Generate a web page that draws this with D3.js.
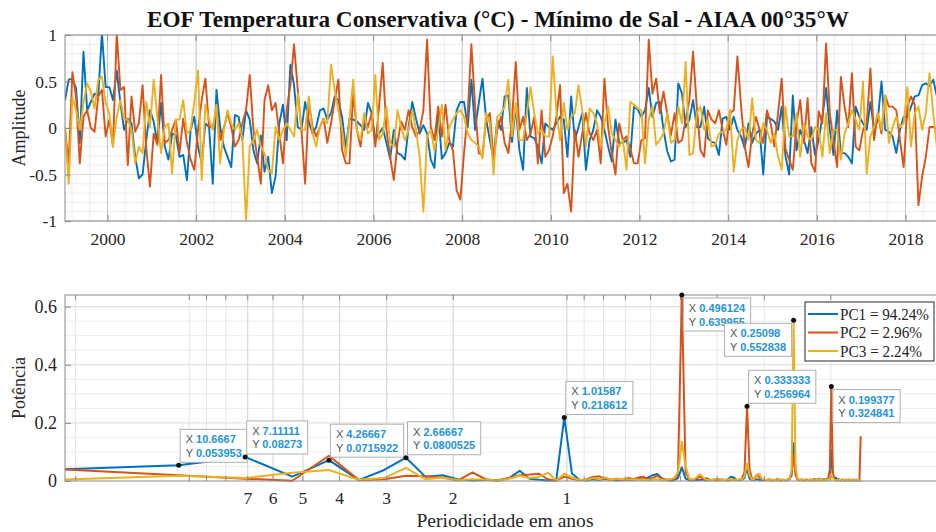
<!DOCTYPE html>
<html><head><meta charset="utf-8">
<script src="https://cdn.jsdelivr.net/npm/d3@7"></script>
<style>body{margin:0;background:#fff}svg{display:block}</style>
</head><body><svg id="c" width="936" height="532"></svg>
<script>
// ---------------- DATA ----------------
const startYear = 1999;            // monthly series, first month Jan 1999
const yearTicks = [2000,2002,2004,2006,2008,2010,2012,2014,2016,2018];
const ampTicks = [-1,-0.5,0,0.5,1];
const pc1 = [
0.30,0.52,0.53,0.43,-0.16,0.82,0.19,0.28,0.37,0.35,
1.02,0.44,0.44,0.30,0.62,0.27,-0.02,0.10,0.05,-0.31,
-0.54,-0.50,-0.13,0.19,0.07,-0.16,0.27,-0.20,-0.34,-0.06,
-0.08,-0.31,-0.29,-0.56,-0.02,0.12,-0.20,-0.38,0.05,0.01,
-0.60,0.41,0.01,-0.20,-0.31,-0.42,0.14,0.12,-0.13,0.19,
0.09,-0.24,-0.38,-0.08,-0.47,-0.31,-0.70,-0.52,0.05,0.25,
-0.13,0.68,0.46,0.01,-0.02,0.28,0.07,-0.06,0.01,0.19,
0.21,0.09,0.16,0.34,0.30,0.12,-0.22,0.10,0.09,0.07,
0.03,-0.02,0.27,0.16,-0.13,-0.06,0.00,-0.16,-0.33,-0.02,
-0.27,-0.29,-0.34,0.01,0.28,0.10,-0.06,0.03,-0.06,-0.34,
-0.43,0.19,-0.33,-0.27,-0.16,-0.20,0.19,0.28,0.28,0.01,
0.52,-0.02,0.27,0.53,0.09,-0.13,-0.34,0.09,-0.02,0.34,
0.35,-0.15,0.23,-0.24,-0.45,0.43,-0.09,-0.11,-0.20,-0.38,
0.05,0.01,-0.02,0.05,0.12,0.09,-0.31,0.34,-0.13,0.01,
0.16,-0.45,-0.13,-0.02,0.19,0.12,-0.02,-0.20,-0.36,0.09,
-0.16,-0.16,-0.13,-0.31,0.23,0.20,0.12,0.19,0.43,0.12,
0.27,0.28,-0.02,-0.25,-0.36,-0.34,0.48,0.37,0.01,0.09,
0.30,0.01,0.01,0.23,-0.11,-0.15,-0.16,-0.29,0.10,0.12,
-0.02,0.12,-0.02,-0.09,-0.22,0.05,-0.16,-0.06,-0.02,-0.50,
0.12,0.10,0.07,-0.02,0.23,-0.30,-0.50,0.35,-0.24,-0.02,
-0.13,-0.27,0.01,-0.29,-0.13,0.12,0.43,-0.02,-0.29,0.19,
-0.27,-0.27,-0.31,-0.38,0.23,0.12,0.05,-0.02,0.28,-0.02,
0.09,0.50,-0.02,-0.04,-0.09,-0.27,-0.02,0.12,0.12,0.23,
0.34,0.35,0.46,0.48,0.45,0.52,0.34,0.30,0.40,0.25];
const pc2 = [
0.00,-0.38,0.60,0.33,-0.38,0.12,0.19,0.00,-0.04,0.34,
0.41,-0.09,0.09,-0.20,1.02,0.41,0.44,-0.40,0.34,-0.04,
0.05,0.46,-0.22,-0.63,-0.06,-0.18,0.57,-0.16,-0.13,-0.02,
0.09,-0.27,0.10,-0.15,-0.34,-0.45,-0.02,0.30,0.53,0.01,
0.01,0.19,-0.13,0.00,0.16,0.01,-0.20,-0.13,0.05,0.19,
0.57,-0.02,-0.31,-0.60,0.30,0.46,0.19,0.27,-0.06,-0.38,
0.19,0.46,0.90,0.41,-0.02,-0.60,0.28,0.01,-0.09,0.01,
0.10,-0.16,0.05,0.30,0.52,-0.24,-0.38,-0.38,0.37,-0.02,
-0.20,0.12,0.01,0.16,-0.20,0.23,0.70,-0.02,-0.31,-0.56,
-0.16,0.07,-0.02,0.19,0.01,-0.09,-0.02,0.19,0.95,0.01,
-0.13,0.23,-0.09,0.25,-0.13,-0.24,-0.67,-0.77,-0.27,0.16,
0.90,0.23,-0.27,-0.29,0.09,0.16,-0.34,-0.02,0.12,-0.16,
-0.27,0.09,0.71,-0.02,0.12,-0.13,-0.06,0.12,-0.38,0.19,
-0.31,-0.24,-0.09,0.12,0.46,-0.70,-0.60,-0.90,-0.02,-0.31,
-0.06,0.16,-0.06,-0.13,-0.02,-0.38,0.53,0.01,-0.27,-0.50,
0.05,-0.13,-0.09,-0.22,-0.38,-0.38,-0.13,-0.11,0.95,0.37,
0.53,0.16,0.39,0.16,-0.08,0.16,-0.16,-0.13,0.09,0.30,
0.82,0.23,-0.24,-0.31,0.19,0.09,0.05,0.19,-0.02,-0.18,
0.16,0.19,0.77,0.23,-0.20,-0.42,-0.06,0.12,-0.02,-0.16,
0.19,0.05,-0.20,0.16,0.53,-0.22,-0.34,-0.45,0.05,0.30,
-0.16,0.32,-0.38,-0.47,0.18,0.05,0.91,0.16,-0.13,-0.42,
0.55,0.23,0.01,0.59,-0.20,-0.24,-0.02,0.05,0.64,-0.13,
0.16,-0.06,0.35,0.23,0.23,0.19,-0.13,-0.42,0.23,0.34,
0.25,-0.83,-0.52,-0.31,0.01,0.01,-0.02,0.10,-0.20,0.15];
const pc3 = [
0.01,-0.60,0.33,0.19,-0.02,0.27,0.48,0.39,0.21,0.52,
0.55,0.27,0.16,-0.20,0.12,0.30,0.09,0.09,-0.02,-0.38,
-0.20,-0.27,0.28,0.01,0.52,0.12,-0.27,0.01,0.05,-0.49,
0.09,0.09,0.30,-0.06,-0.02,0.28,0.62,-0.56,0.25,0.09,
-0.02,0.25,-0.38,-0.02,0.19,0.05,-0.02,0.05,-0.10,-1.00,
-0.20,-0.13,-0.02,-0.20,-0.27,-0.45,-0.49,0.01,-0.13,-0.02,
0.05,-0.02,-0.09,0.37,-0.02,-0.02,0.34,-0.06,-0.20,0.01,
0.09,0.05,0.68,0.41,0.19,-0.02,-0.31,0.09,0.52,-0.02,
-0.13,0.16,-0.06,-0.02,0.57,-0.13,-0.06,0.23,-0.16,-0.20,
0.19,0.01,-0.13,-0.02,0.19,-0.02,-0.31,-0.90,-0.09,-0.02,
-0.24,-0.02,0.25,-0.24,0.01,0.09,0.16,0.19,0.12,-0.06,
-0.13,-0.16,-0.20,-0.33,0.16,0.05,-0.50,0.12,0.16,0.23,
0.52,-0.09,0.27,-0.13,-0.13,0.16,0.44,0.16,-0.06,-0.02,
-0.09,-0.09,0.77,0.19,-0.13,0.27,-0.02,0.12,0.16,0.46,
0.19,-0.20,0.21,0.16,0.05,-0.20,0.05,0.23,-0.06,-0.13,
-0.20,-0.13,-0.45,0.28,0.25,0.21,0.19,-0.38,0.09,0.23,
-0.18,-0.13,-0.06,0.16,-0.16,-0.13,0.23,0.05,0.71,-0.29,
-0.27,0.16,0.23,-0.02,0.09,-0.20,-0.18,-0.06,-0.04,-0.02,
0.19,-0.47,-0.13,-0.02,0.01,-0.13,0.32,-0.13,-0.16,0.05,
-0.02,-0.16,-0.06,-0.31,-0.45,0.23,-0.09,-0.09,0.16,-0.31,
0.05,-0.09,-0.13,0.01,-0.02,-0.31,0.16,-0.27,-0.02,-0.02,
-0.34,-0.06,0.05,0.19,0.09,-0.02,0.50,-0.49,-0.09,0.01,
0.16,-0.02,0.35,-0.16,0.01,0.12,0.01,0.05,0.44,-0.20,
0.16,0.23,-0.02,0.16,0.59,0.16,-0.20,0.10,0.30,-0.10];

// periodogram: FFT bins k = 1..128 of nfft = 256 monthly points
const nfft = 256, samplesPerYear = 12;
const pow1 = [
0.040,0.053953,0.08273,0.015,0.0715922,0.003,0.038,0.0800525,0.015,0.020,
0.005,0.002,0.004,0.003,0.010,0.035,0.008,0.004,0.002,0.003,
0.218612,0.026,0.004,0.002,0.006,0.003,0.010,0.004,0.002,0.006,
0.003,0.004,0.008,0.005,0.012,0.020,0.024,0.010,0.004,0.002,
0.003,0.010,0.047,0.008,0.003,0.002,0.004,0.003,0.005,0.002,
0.003,0.004,0.002,0.003,0.005,0.003,0.006,0.015,0.012,0.004,
0.003,0.005,0.010,0.045,0.008,0.003,0.004,0.006,0.003,0.004,
0.002,0.003,0.005,0.002,0.004,0.003,0.006,0.002,0.003,0.004,
0.002,0.005,0.008,0.020,0.130,0.040,0.008,0.003,0.004,0.002,
0.003,0.005,0.002,0.004,0.003,0.006,0.002,0.004,0.008,0.005,
0.003,0.006,0.004,0.008,0.005,0.020,0.106,0.015,0.010,0.012,
0.004,0.006,0.002,0.003,0.005,0.002,0.004,0.003,0.002,0.004,
0.003,0.002,0.005,0.003,0.002,0.004,0.002,0.003];
const pow2 = [
0.040,0.020,0.008,0.001,0.087,0.003,0.006,0.018,0.016,0.012,
0.002,0.030,0.006,0.001,0.010,0.020,0.022,0.025,0.006,0.001,
0.015,0.008,0.003,0.005,0.014,0.016,0.006,0.004,0.008,0.004,
0.010,0.006,0.012,0.015,0.006,0.010,0.018,0.008,0.004,0.006,
0.004,0.025,0.639955,0.030,0.006,0.004,0.008,0.015,0.006,0.010,
0.004,0.003,0.006,0.005,0.003,0.004,0.002,0.004,0.006,0.003,
0.004,0.008,0.030,0.256964,0.040,0.006,0.010,0.022,0.012,0.006,
0.004,0.003,0.005,0.004,0.002,0.004,0.003,0.005,0.002,0.004,
0.003,0.004,0.008,0.030,0.090,0.020,0.006,0.003,0.005,0.004,
0.002,0.004,0.003,0.005,0.002,0.004,0.006,0.003,0.004,0.002,
0.005,0.003,0.004,0.006,0.010,0.040,0.324841,0.030,0.006,0.004,
0.003,0.005,0.002,0.004,0.003,0.002,0.004,0.003,0.005,0.002,
0.003,0.004,0.002,0.003,0.004,0.002,0.003,0.154];
const pow3 = [
0.005,0.018,0.010,0.028,0.038,0.004,0.010,0.045,0.006,0.012,
0.003,0.006,0.004,0.002,0.008,0.018,0.010,0.014,0.028,0.002,
0.025,0.012,0.004,0.003,0.010,0.006,0.012,0.004,0.006,0.008,
0.004,0.006,0.004,0.005,0.003,0.006,0.005,0.004,0.003,0.006,
0.010,0.030,0.135,0.050,0.008,0.004,0.012,0.023,0.012,0.004,
0.003,0.005,0.004,0.002,0.004,0.003,0.005,0.006,0.003,0.004,
0.005,0.006,0.015,0.060,0.020,0.004,0.008,0.020,0.025,0.008,
0.004,0.003,0.005,0.002,0.004,0.003,0.002,0.004,0.006,0.003,
0.004,0.006,0.010,0.040,0.552838,0.050,0.010,0.004,0.003,0.005,
0.004,0.002,0.003,0.005,0.004,0.002,0.003,0.004,0.006,0.003,
0.004,0.002,0.003,0.005,0.004,0.010,0.025,0.010,0.004,0.003,
0.002,0.004,0.003,0.002,0.004,0.003,0.005,0.002,0.003,0.004,
0.002,0.003,0.004,0.002,0.003,0.004,0.003,0.005];
const periodTickLabels = [7,6,5,4,3,2,1];
const periodMinor = [20,10,9,8,0.9,0.8,0.7,0.6,0.5,0.4,0.3,0.2];
const powTicks = [0,0.2,0.4,0.6];
const seriesNames = ["PC1","PC2","PC3"];
const varianceExpl = ["94.24%","2.96%","2.24%"];
const colors = ["#0072BD","#D95319","#EDB120"];
// data tips: [series index, FFT bin k]
const tipRefs = [[0,2],[0,3],[0,5],[0,8],[0,21],[1,43],[2,85],[1,64],[1,107]];

// ---------------- LAYOUT ----------------
const tipPlace = ["ne","ne","ne","ne","ne","se","sw","ne","se"];
const serif = "'Liberation Serif','Times New Roman',serif";
const sans = "'Liberation Sans',Arial,sans-serif";
const axisCol = "#8a8a8a", txtCol = "#262626";
const svg = d3.select("#c");
svg.append("rect").attr("width",936).attr("height",532).attr("fill","#fff");

// ===== TOP PANEL =====
const T = {l:65, r:948, t:35, b:221};
const tYear = i => startYear + (i + 0.5) / 12;
const xT = d3.scaleLinear().domain([tYear(0), tYear(pc1.length-1)]).range([T.l, T.r]);
const yT = d3.scaleLinear().domain([-1,1]).range([T.b, T.t]);
const gT = svg.append("g");
svg.append("clipPath").attr("id","clipT").append("rect")
  .attr("x",T.l).attr("y",T.t).attr("width",T.r-T.l).attr("height",T.b-T.t);
const minorYearT = d3.range(1999.2, 2019, 0.4);
gT.selectAll(".mgx").data(minorYearT).join("line")
  .attr("x1",d=>xT(d)).attr("x2",d=>xT(d)).attr("y1",T.t).attr("y2",T.b)
  .attr("stroke","#ededed").attr("stroke-width",1);
gT.selectAll(".mgy").data(d3.range(-0.9,0.95,0.1)).join("line")
  .attr("x1",T.l).attr("x2",T.r).attr("y1",d=>yT(d)).attr("y2",d=>yT(d))
  .attr("stroke","#ededed").attr("stroke-width",1);
gT.selectAll(".gx").data(yearTicks).join("line")
  .attr("x1",d=>xT(d)).attr("x2",d=>xT(d)).attr("y1",T.t).attr("y2",T.b)
  .attr("stroke","#c4c4c4").attr("stroke-width",1);
gT.selectAll(".gy").data(ampTicks).join("line")
  .attr("x1",T.l).attr("x2",T.r).attr("y1",d=>yT(d)).attr("y2",d=>yT(d))
  .attr("stroke","#dadada").attr("stroke-width",1);
const lineT = d3.line().x((d,i)=>xT(tYear(i))).y(d=>yT(d));
[pc1,pc2,pc3].forEach((s,j)=>{
  gT.append("path").datum(s).attr("d",lineT).attr("fill","none")
    .attr("stroke",colors[j]).attr("stroke-width",1.9).attr("stroke-linejoin","round")
    .attr("clip-path","url(#clipT)");
});
gT.append("rect").attr("x",T.l).attr("y",T.t).attr("width",T.r-T.l).attr("height",T.b-T.t)
  .attr("fill","none").attr("stroke",axisCol).attr("stroke-width",1);
const axBT = d3.axisBottom(xT).tickValues(yearTicks).tickFormat(d3.format("d")).tickSizeInner(-6).tickSizeOuter(0).tickPadding(12);
const gxa = gT.append("g").attr("transform",`translate(0,${T.b})`).call(axBT);
const axLT = d3.axisLeft(yT).tickValues(ampTicks).tickFormat(d=>d===0?"0":String(d)).tickSizeInner(-6).tickSizeOuter(0).tickPadding(8);
const gya = gT.append("g").attr("transform",`translate(${T.l},0)`).call(axLT);
[gxa,gya].forEach(g=>{
  g.select(".domain").remove();
  g.selectAll(".tick line").attr("stroke",axisCol);
  g.selectAll(".tick text").attr("fill",txtCol).style("font-family",serif).style("font-size","17.5px");
});
gT.selectAll(".ttop").data(yearTicks).join("line")
  .attr("x1",d=>xT(d)).attr("x2",d=>xT(d)).attr("y1",T.t).attr("y2",T.t+6).attr("stroke",axisCol);
svg.append("text").attr("transform",`translate(25,${(T.t+T.b)/2}) rotate(-90)`)
  .attr("text-anchor","middle").style("font-family",serif).style("font-size","18px").attr("fill",txtCol)
  .text("Amplitude");
svg.append("text").attr("x",498).attr("y",27).attr("text-anchor","middle")
  .attr("textLength",702).attr("lengthAdjust","spacingAndGlyphs")
  .style("font-family",serif).style("font-size","24px").style("font-weight","bold").attr("fill","#111")
  .text("EOF Temperatura Conservativa (°C) - Mínimo de Sal - AIAA 00°35°W");

// ===== BOTTOM PANEL =====
const B = {l:65, r:944.5, t:295, b:481};
const period = k => nfft / (samplesPerYear * k);
const xB = d3.scaleLog().domain([period(1), 0.1]).range([B.l, B.r]);
const yB = d3.scaleLinear().domain([0,0.64]).range([B.b, B.t]);
const gB = svg.append("g");
svg.append("clipPath").attr("id","clipB").append("rect")
  .attr("x",B.l).attr("y",B.t-1).attr("width",B.r-B.l).attr("height",B.b-B.t+2);
gB.selectAll(".mgy").data(d3.range(0.05,0.64,0.05).filter(v=>Math.abs(v/0.2-Math.round(v/0.2))>1e-6)).join("line")
  .attr("x1",B.l).attr("x2",B.r).attr("y1",d=>yB(d)).attr("y2",d=>yB(d))
  .attr("stroke","#ededed");
gB.selectAll(".mgx").data(periodMinor).join("line")
  .attr("x1",d=>xB(d)).attr("x2",d=>xB(d)).attr("y1",B.t).attr("y2",B.b)
  .attr("stroke","#e6e6e6");
gB.selectAll(".gy").data(powTicks.slice(1)).join("line")
  .attr("x1",B.l).attr("x2",B.r).attr("y1",d=>yB(d)).attr("y2",d=>yB(d))
  .attr("stroke","#dadada");
gB.selectAll(".gx").data(periodTickLabels).join("line")
  .attr("x1",d=>xB(d)).attr("x2",d=>xB(d)).attr("y1",B.t).attr("y2",B.b)
  .attr("stroke","#d2d2d2");
const lineB = d3.line().x((d,i)=>xB(period(i+1))).y(d=>yB(d));
const pows = [pow1,pow2,pow3];
pows.forEach((s,j)=>{
  gB.append("path").datum(s).attr("d",lineB).attr("fill","none")
    .attr("stroke",colors[j]).attr("stroke-width",2).attr("stroke-linejoin","round")
    .attr("clip-path","url(#clipB)");
});
gB.append("rect").attr("x",B.l).attr("y",B.t).attr("width",B.r-B.l).attr("height",B.b-B.t)
  .attr("fill","none").attr("stroke",axisCol);
const allPTicks = periodMinor.concat(periodTickLabels);
gB.selectAll(".tkb").data(allPTicks).join("line")
  .attr("x1",d=>xB(d)).attr("x2",d=>xB(d)).attr("y1",B.b).attr("y2",B.b-5).attr("stroke",axisCol);
gB.selectAll(".tkt").data(allPTicks).join("line")
  .attr("x1",d=>xB(d)).attr("x2",d=>xB(d)).attr("y1",B.t).attr("y2",B.t+5).attr("stroke",axisCol);
gB.selectAll(".lbx").data(periodTickLabels).join("text")
  .attr("x",d=>xB(d)).attr("y",B.b+23).attr("text-anchor","middle")
  .style("font-family",serif).style("font-size","17.5px").attr("fill",txtCol).text(d=>d);
const axLB = d3.axisLeft(yB).tickValues(powTicks).tickFormat(d=>d===0?"0":String(d)).tickSizeInner(-6).tickSizeOuter(0).tickPadding(8);
const gyb = gB.append("g").attr("transform",`translate(${B.l},0)`).call(axLB);
gyb.select(".domain").remove();
gyb.selectAll(".tick line").attr("stroke",axisCol);
gyb.selectAll(".tick text").attr("fill",txtCol).style("font-family",serif).style("font-size","18px");
svg.append("text").attr("transform",`translate(25,${(B.t+B.b)/2}) rotate(-90)`)
  .attr("text-anchor","middle").style("font-family",serif).style("font-size","18px").attr("fill",txtCol)
  .text("Potência");
svg.append("text").attr("x",505).attr("y",527).attr("text-anchor","middle")
  .attr("textLength",177).attr("lengthAdjust","spacingAndGlyphs")
  .style("font-family",serif).style("font-size","19.5px").attr("fill",txtCol)
  .text("Periodicidade em anos");

// data tips
const fmt = d3.format(".6~g");
tipRefs.forEach(([s,k],n)=>{
  const px = xB(period(k)), py = yB(pows[s][k-1]);
  const g = gB.append("g");
  const t1 = g.append("text").style("font-family",sans).style("font-size","11px");
  t1.append("tspan").attr("fill","#555").text("X ");
  t1.append("tspan").attr("fill","#2394d6").style("font-weight","bold").text(fmt(period(k)));
  const t2 = g.append("text").style("font-family",sans).style("font-size","11px");
  t2.append("tspan").attr("fill","#555").text("Y ");
  t2.append("tspan").attr("fill","#2394d6").style("font-weight","bold").text(fmt(pows[s][k-1]));
  const w = Math.max(t1.node().getComputedTextLength(), t2.node().getComputedTextLength()) + 11;
  const h = 33;
  const pl = tipPlace[n];
  const bx = pl.includes("w") ? px - 2 - w : px + 1.5;
  const by = pl.includes("s") ? py + 3 : py - 3 - h;
  g.insert("rect","text").attr("x",bx).attr("y",by).attr("width",w).attr("height",h)
    .attr("fill","#fff").attr("fill-opacity",0.93).attr("stroke","#b0b0b0");
  t1.attr("x",bx+5.5).attr("y",by+14);
  t2.attr("x",bx+5.5).attr("y",by+27.5);
  gB.append("circle").attr("cx",px).attr("cy",py).attr("r",2.5).attr("fill","#111");
});

// legend
const L = {x:805, y:302, w:129, h:59};
const gL = svg.append("g");
gL.append("rect").attr("x",L.x).attr("y",L.y).attr("width",L.w).attr("height",L.h)
  .attr("fill","#fff").attr("stroke","#262626");
seriesNames.forEach((nm,j)=>{
  const cy = L.y + 12 + j*18.5;
  gL.append("line").attr("x1",L.x+3).attr("x2",L.x+33).attr("y1",cy).attr("y2",cy)
    .attr("stroke",colors[j]).attr("stroke-width",2);
  gL.append("text").attr("x",L.x+35).attr("y",cy+5.5)
    .attr("textLength",j===0?89:82).attr("lengthAdjust","spacingAndGlyphs")
    .style("font-family",serif).style("font-size","16px").attr("fill",txtCol)
    .text(`${nm} = ${varianceExpl[j]}`);
});
</script></body></html>
